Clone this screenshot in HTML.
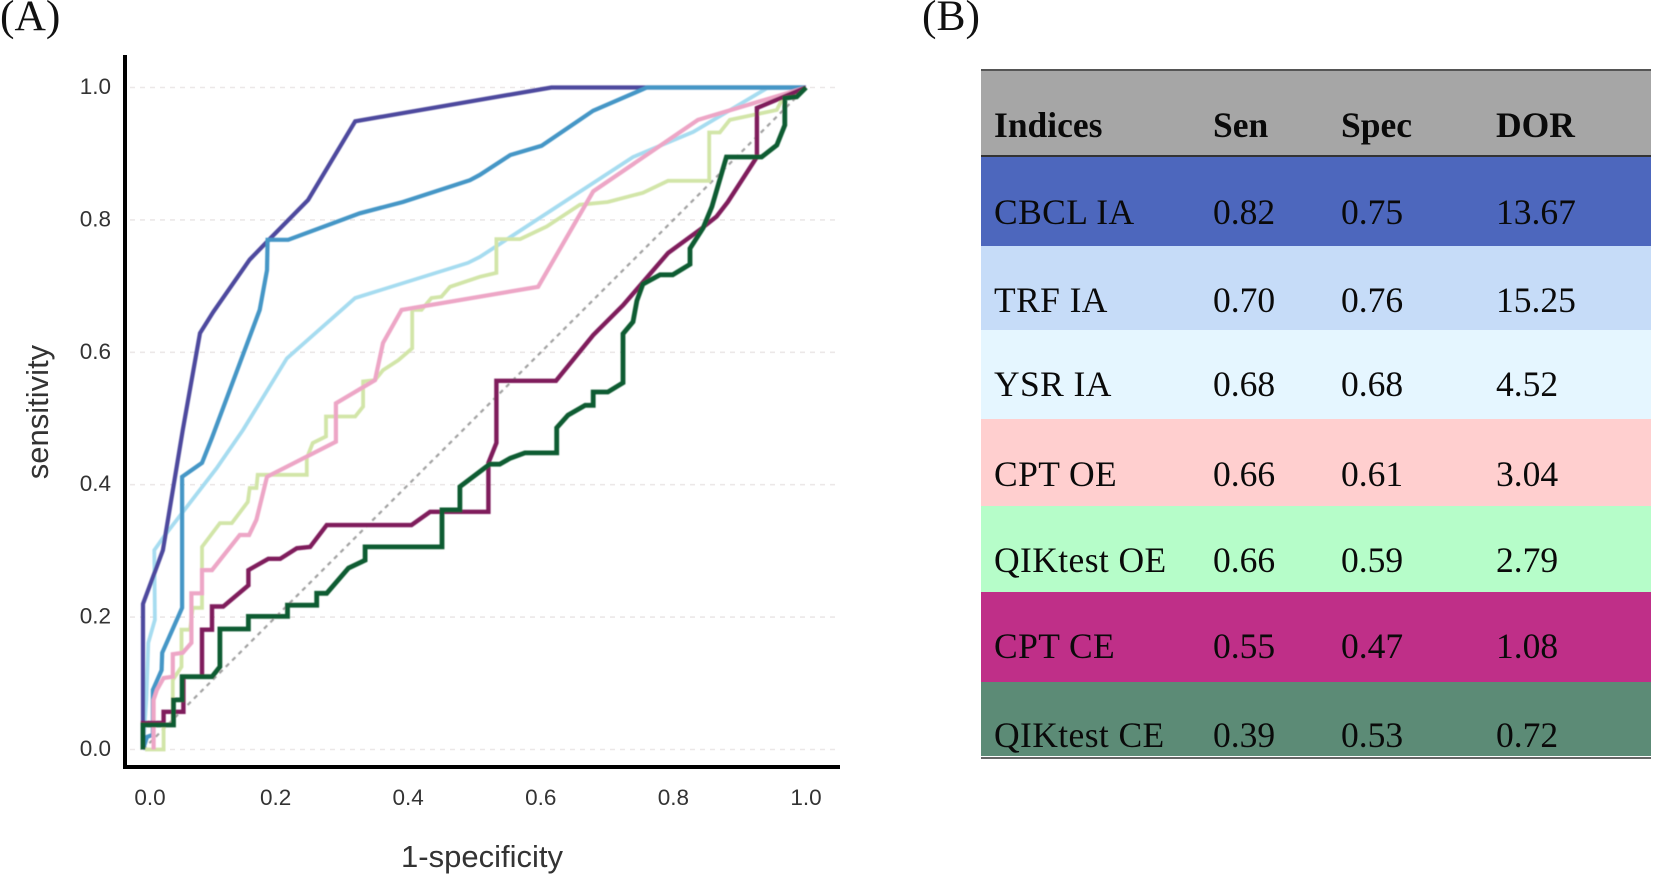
<!DOCTYPE html>
<html lang="en">
<head>
<meta charset="utf-8">
<title>ROC curves and diagnostic indices</title>
<style>
html,body{margin:0;padding:0;background:#fff;width:1653px;height:877px;overflow:hidden}
svg{display:block}
.lab{font-family:"Liberation Serif",serif;font-size:43.5px;fill:#111}
.tick{font-family:"Liberation Sans",sans-serif;font-size:22.5px;fill:#333}
.axt{font-family:"Liberation Sans",sans-serif;font-size:31px;fill:#333}
.cell{font-family:"Liberation Serif",serif;font-size:35.5px;fill:#0a0a0a}
.name{letter-spacing:.4px}
.hd{font-weight:bold}
</style>
</head>
<body>
<svg id="root" xmlns="http://www.w3.org/2000/svg" width="1653" height="877" viewBox="0 0 1653 877">
  <defs><filter id="soft" x="-5%" y="-5%" width="110%" height="110%"><feGaussianBlur stdDeviation="0.4"/></filter></defs>
  <text class="lab" x="0" y="30">(A)</text>
  <text class="lab" x="922" y="30">(B)</text>

  <g id="chart">
    <g id="grid"></g>
    <g id="marks" filter="url(#soft)"></g>
    <rect x="123" y="55" width="4" height="714" fill="#000"/>
    <rect x="123" y="765" width="717" height="4" fill="#000"/>
    <g id="ticks"></g>
    <text class="axt" x="482" y="867" text-anchor="middle">1-specificity</text>
    <text class="axt" transform="translate(48,412) rotate(-90)" text-anchor="middle">sensitivity</text>
  </g>

  <g>
    <rect x="981" y="70" width="670" height="86" fill="#a6a6a6"/>
    <rect x="981" y="69" width="670" height="2" fill="#555"/>
    <rect x="981" y="155" width="670" height="2" fill="#333"/>
    <rect x="981" y="157" width="670" height="89" fill="#4d67bd"/>
    <rect x="981" y="246" width="670" height="84" fill="#c6dcf8"/>
    <rect x="981" y="330" width="670" height="89" fill="#e5f6ff"/>
    <rect x="981" y="419" width="670" height="87" fill="#ffcfcf"/>
    <rect x="981" y="506" width="670" height="86" fill="#b6fdc9"/>
    <rect x="981" y="592" width="670" height="90" fill="#bf2f88"/>
    <rect x="981" y="682" width="670" height="74" fill="#5c8b76"/>
    <rect x="981" y="757" width="670" height="2" fill="#666"/>

    <g>
      <text class="cell hd" x="994" y="137">Indices</text>
      <text class="cell hd" x="1213" y="137">Sen</text>
      <text class="cell hd" x="1341" y="137">Spec</text>
      <text class="cell hd" x="1496" y="137">DOR</text>
    </g>
    <g>
      <text class="cell name" x="994" y="224">CBCL IA</text>
      <text class="cell" x="1213" y="224">0.82</text>
      <text class="cell" x="1341" y="224">0.75</text>
      <text class="cell" x="1496" y="224">13.67</text>
    </g>
    <g>
      <text class="cell name" x="994" y="312">TRF IA</text>
      <text class="cell" x="1213" y="312">0.70</text>
      <text class="cell" x="1341" y="312">0.76</text>
      <text class="cell" x="1496" y="312">15.25</text>
    </g>
    <g>
      <text class="cell name" x="994" y="396">YSR IA</text>
      <text class="cell" x="1213" y="396">0.68</text>
      <text class="cell" x="1341" y="396">0.68</text>
      <text class="cell" x="1496" y="396">4.52</text>
    </g>
    <g>
      <text class="cell name" x="994" y="486">CPT OE</text>
      <text class="cell" x="1213" y="486">0.66</text>
      <text class="cell" x="1341" y="486">0.61</text>
      <text class="cell" x="1496" y="486">3.04</text>
    </g>
    <g>
      <text class="cell name" x="994" y="572">QIKtest OE</text>
      <text class="cell" x="1213" y="572">0.66</text>
      <text class="cell" x="1341" y="572">0.59</text>
      <text class="cell" x="1496" y="572">2.79</text>
    </g>
    <g>
      <text class="cell name" x="994" y="658">CPT CE</text>
      <text class="cell" x="1213" y="658">0.55</text>
      <text class="cell" x="1341" y="658">0.47</text>
      <text class="cell" x="1496" y="658">1.08</text>
    </g>
    <g>
      <text class="cell name" x="994" y="747">QIKtest CE</text>
      <text class="cell" x="1213" y="747">0.39</text>
      <text class="cell" x="1341" y="747">0.53</text>
      <text class="cell" x="1496" y="747">0.72</text>
    </g>
  </g>
</svg>
<script>
const xTicks = [0, 0.2, 0.4, 0.6, 0.8, 1.0];
const yTicks = [0, 0.2, 0.4, 0.6, 0.8, 1.0];
const diagonal = [[0, 0], [1, 1]];

const ysrIA = [[0,0],[.005,.075],[.008,.161],[.018,.196],[.017,.301],[.031,.321],[.111,.425],[.151,.483],[.217,.591],[.32,.682],[.49,.735],[.508,.744],[.739,.895],[.83,.933],[.941,.999],[1,1]];
const cbclIA = [[0,0],[0,.22],[.03,.301],[.06,.483],[.086,.629],[.106,.661],[.161,.74],[.192,.772],[.249,.83],[.32,.949],[.616,1],[1,1]];
const trfIA = [[0,0],[.006,.019],[.015,.022],[.015,.09],[.028,.12],[.029,.146],[.059,.214],[.059,.412],[.089,.433],[.104,.471],[.176,.664],[.187,.724],[.188,.77],[.219,.77],[.327,.81],[.392,.827],[.493,.86],[.508,.868],[.554,.898],[.601,.912],[.679,.965],[.76,1],[1,1]];
const qikOE = [[.003,0],[.031,0],[.031,.037],[.045,.037],[.045,.105],[.058,.125],[.058,.181],[.071,.181],[.075,.214],[.089,.214],[.089,.306],[.116,.342],[.134,.342],[.158,.374],[.161,.395],[.171,.395],[.173,.415],[.247,.415],[.247,.44],[.256,.463],[.276,.473],[.276,.503],[.32,.503],[.332,.518],[.332,.556],[.35,.558],[.362,.573],[.385,.588],[.406,.606],[.406,.664],[.42,.664],[.435,.682],[.45,.684],[.463,.699],[.508,.714],[.533,.72],[.533,.771],[.569,.771],[.609,.79],[.659,.823],[.701,.827],[.754,.841],[.792,.859],[.854,.859],[.854,.932],[.87,.932],[.885,.951],[.956,.966],[.965,.984],[1,1]];
const cptOE = [[.016,0],[.016,.075],[.021,.09],[.031,.108],[.045,.11],[.045,.144],[.06,.146],[.073,.161],[.073,.236],[.089,.236],[.089,.271],[.104,.271],[.146,.324],[.16,.324],[.171,.347],[.187,.412],[.291,.465],[.291,.523],[.35,.558],[.362,.614],[.39,.664],[.508,.684],[.596,.699],[.679,.843],[.837,.951],[1,1]];
const cptCE = [[0,0],[0,.04],[.031,.04],[.031,.057],[.061,.057],[.061,.11],[.089,.11],[.089,.181],[.104,.181],[.104,.216],[.121,.216],[.159,.248],[.159,.271],[.189,.288],[.207,.288],[.232,.304],[.252,.306],[.277,.339],[.405,.339],[.433,.359],[.521,.359],[.521,.433],[.533,.463],[.533,.557],[.623,.557],[.679,.626],[.724,.671],[.792,.75],[.84,.785],[.865,.805],[.882,.827],[.926,.895],[.926,.969],[1,1]];
const qikCE = [[0,0],[0,.037],[.046,.037],[.046,.075],[.059,.075],[.059,.11],[.104,.11],[.116,.125],[.116,.182],[.159,.182],[.159,.201],[.218,.201],[.218,.218],[.262,.218],[.262,.236],[.277,.236],[.31,.274],[.335,.286],[.335,.306],[.451,.306],[.451,.362],[.478,.362],[.478,.397],[.523,.431],[.538,.431],[.554,.44],[.576,.448],[.624,.448],[.624,.486],[.641,.505],[.667,.52],[.679,.52],[.679,.54],[.701,.54],[.724,.554],[.724,.628],[.739,.646],[.745,.678],[.754,.703],[.78,.717],[.799,.717],[.825,.733],[.825,.757],[.845,.788],[.858,.82],[.88,.895],[.933,.895],[.956,.913],[.968,.943],[.968,.984],[.986,.986],[1,1]];

const NS = 'http://www.w3.org/2000/svg';
function xScale(v) { return 143 + 663 * v; }
function yScale(v) { return 749.5 - 662 * v; }
function toPath(points) {
  return points.map(function (p, i) {
    return (i ? 'L' : 'M') + xScale(p[0]).toFixed(1) + ' ' + yScale(p[1]).toFixed(1);
  }).join(' ');
}

const gridG = document.getElementById('grid');
yTicks.forEach(function (t) {
  const line = document.createElementNS(NS, 'line');
  
  
  line.setAttribute('x1', 130);
  line.setAttribute('x2', 838);
  line.setAttribute('y1', yScale(t));
  line.setAttribute('y2', yScale(t));
  line.setAttribute('stroke', '#ece8e8');
  line.setAttribute('stroke-width', 1.6);
  line.setAttribute('stroke-dasharray', '5 5');
  gridG.appendChild(line);
});

const marksG = document.getElementById('marks');
const diagLine = document.createElementNS(NS, 'path');


diagLine.setAttribute('d', toPath(diagonal));
diagLine.setAttribute('fill', 'none');
diagLine.setAttribute('stroke', '#a0a0a0');
diagLine.setAttribute('stroke-width', 2.2);
diagLine.setAttribute('stroke-dasharray', '4.5 4.5');
marksG.appendChild(diagLine);

function drawCurve(points, name, color, width) {
  const curve = document.createElementNS(NS, 'path');
  
  
  curve.setAttribute('d', toPath(points));
  curve.setAttribute('fill', 'none');
  curve.setAttribute('stroke', color);
  curve.setAttribute('stroke-width', width);
  curve.setAttribute('stroke-linejoin', 'miter');
  marksG.appendChild(curve);
}
drawCurve(ysrIA, 'curve-ysr-ia', '#a6dcf0', 3.8);
drawCurve(cbclIA, 'curve-cbcl-ia', '#4e4a9e', 4.2);
drawCurve(trfIA, 'curve-trf-ia', '#4596c6', 4.2);
drawCurve(qikOE, 'curve-qiktest-oe', '#d2e5a8', 3.8);
drawCurve(cptOE, 'curve-cpt-oe', '#eda6c6', 4.2);
drawCurve(cptCE, 'curve-cpt-ce', '#7f1b5c', 4.4);
drawCurve(qikCE, 'curve-qiktest-ce', '#0e5c30', 4.8);

const tickG = document.getElementById('ticks');
xTicks.forEach(function (t) {
  const label = document.createElementNS(NS, 'text');
  
  
  label.setAttribute('class', 'tick');
  label.setAttribute('text-anchor', 'middle');
  label.setAttribute('x', xScale(t) + (t === 0 ? 7 : 0));
  label.setAttribute('y', 805);
  label.textContent = t.toFixed(1);
  tickG.appendChild(label);
});
yTicks.forEach(function (t) {
  const label = document.createElementNS(NS, 'text');
  
  
  label.setAttribute('class', 'tick');
  label.setAttribute('text-anchor', 'end');
  label.setAttribute('x', 111);
  label.setAttribute('y', yScale(t) + 6.5);
  label.textContent = t.toFixed(1);
  tickG.appendChild(label);
});
</script>
</body>
</html>
